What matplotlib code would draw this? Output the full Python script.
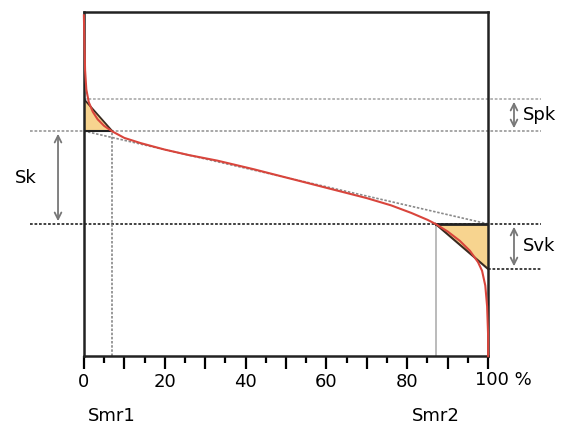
import matplotlib
matplotlib.use("Agg")
import matplotlib.pyplot as plt
import numpy as np

# material ratio (Abbott-Firestone) curve
mr = [0, 0.15, 0.3, 0.6, 1.2, 2.2, 3.4, 5, 7, 10, 14, 20, 26, 33, 42, 52, 62,
      70, 76, 81, 85, 87, 90, 93, 95.5, 97.5, 98.5, 99.3, 99.75, 100, 100]
height = [99, 90, 83, 77.5, 73.8, 71.0, 68.8, 66.9, 65.3, 63.4, 61.9, 60.0,
          58.4, 56.8, 54.3, 51.3, 48.3, 45.9, 43.8, 41.6, 39.6, 38.4, 36.2,
          33.5, 30.6, 27.3, 24.8, 20.5, 14.5, 6, 0]

# levels and material ratios
spk_top = 74.7
sk_top = 65.4
sk_bot = 38.4
svk_bot = 25.3
smr1 = 7
smr2 = 87

xticks_major = np.arange(0, 101, 10)
xticks_minor = np.arange(5, 100, 10)
xlabels = ["0", "", "20", "", "40", "", "60", "", "80", "", ""]

fig = plt.figure(figsize=(5.63, 4.25), dpi=100)
ax = fig.add_axes([0.149, 0.162, 0.718, 0.81])
ax.set_xlim(0, 100)
ax.set_ylim(0, 100)

dark = "#333333"
dot = (0, (1.5, 1))

# horizontal reference lines (extend outside the box)
ax.plot([0, 113], [spk_top, spk_top], color="#b0b0b0", lw=1.3, ls=dot, clip_on=False)
ax.plot([-13.4, 113], [sk_top, sk_top], color="#a0a0a0", lw=1.3, ls=dot, clip_on=False)
ax.plot([-13.4, 113], [sk_bot, sk_bot], color=dark, lw=1.3, ls=dot, clip_on=False)
ax.plot([100, 113], [svk_bot, svk_bot], color=dark, lw=1.3, ls=dot, clip_on=False)

# equivalent straight line
ax.plot([0, 100], [sk_top, sk_bot], color="#8a8a8a", lw=1.2, ls=dot)

# vertical lines at Smr1 and Smr2
ax.plot([smr1, smr1], [0, sk_top], color="#888888", lw=1.2, ls=dot)
ax.plot([smr2, smr2], [0, sk_bot], color="#b5b5b5", lw=1.3)

# triangles of equivalent area
ax.fill([0, 0, smr1], [spk_top, sk_top, sk_top], color="#f7d48f", lw=0)
ax.fill([smr2, 100, 100], [sk_bot, sk_bot, svk_bot], color="#f7d48f", lw=0)
ax.plot([0, smr1], [spk_top, sk_top], color="#3a2a20", lw=1.3)
ax.plot([0, smr1], [sk_top, sk_top], color="#222222", lw=1.5)
ax.plot([smr2, 100], [sk_bot, svk_bot], color="#3a2a20", lw=1.5)
ax.plot([smr2, 100], [sk_bot, sk_bot], color="#222222", lw=2)

# the curve
ax.plot(mr, height, color="#d9453c", lw=1.5, clip_on=False, zorder=5)

# arrows
arr = dict(arrowstyle="<->", color="#777777", lw=1.3, mutation_scale=12)
ax.annotate("", xy=(-6.4, sk_top), xytext=(-6.4, sk_bot), arrowprops=arr,
            annotation_clip=False)
ax.annotate("", xy=(106.4, spk_top), xytext=(106.4, sk_top), arrowprops=arr,
            annotation_clip=False)
ax.annotate("", xy=(106.4, sk_bot), xytext=(106.4, svk_bot), arrowprops=arr,
            annotation_clip=False)

fs = 13
ax.text(-14.4, 51.7, "Sk", fontsize=fs, ha="center", va="center", clip_on=False)
ax.text(108.5, 70.0, "Spk", fontsize=fs, ha="left", va="center", clip_on=False)
ax.text(108.5, 32.0, "Svk", fontsize=fs, ha="left", va="center", clip_on=False)
ax.text(smr1, -17.3, "Smr1", fontsize=fs, ha="center", va="center", clip_on=False)
ax.text(smr2, -17.3, "Smr2", fontsize=fs, ha="center", va="center", clip_on=False)
ax.text(96.8, -7.0, "100 %", fontsize=fs, ha="left", va="center", clip_on=False)

# axes styling
for s in ax.spines.values():
    s.set_linewidth(1.8)
    s.set_color("#222222")
ax.set_xticks(xticks_major)
ax.set_xticklabels(xlabels, fontsize=fs)
ax.set_xticks(xticks_minor, minor=True)
ax.tick_params(axis="x", which="major", length=9, width=1.6, direction="out", pad=3)
ax.tick_params(axis="x", which="minor", length=5, width=1.6, direction="out")
ax.set_yticks([])

fig.savefig("out.png", dpi=100)
